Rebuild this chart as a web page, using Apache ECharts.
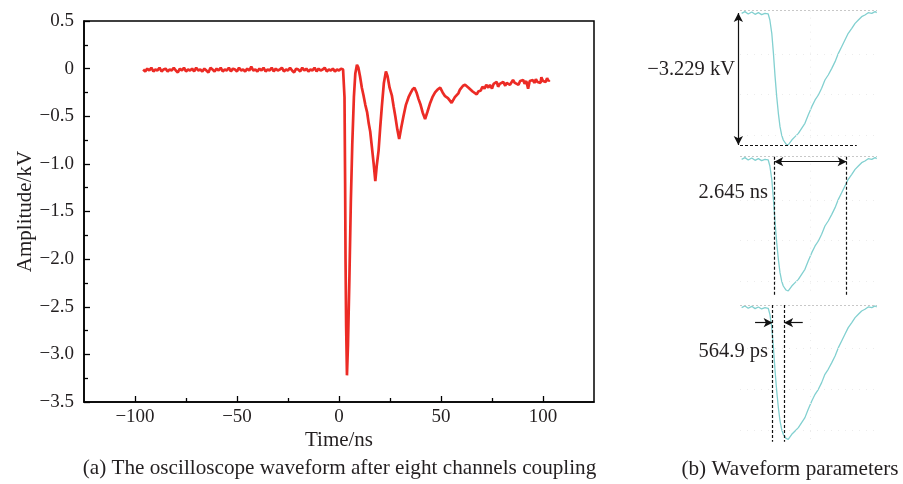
<!DOCTYPE html>
<html>
<head>
<meta charset="utf-8">
<script src="https://cdn.jsdelivr.net/npm/echarts@6/dist/echarts.min.js"></script>
<style>html,body{margin:0;padding:0;background:#fff}#c{width:903px;height:484px}</style>
</head>
<body>
<div id="c"></div>
<script>
// ---------- main waveform (a) ----------
const baseTime = [-96,-95,-94,-93,-92,-91,-90,-89,-88,-87,-86,-85,-84,-83,-82,-81,-80,-79,-78,-77,
-76,-75,-74,-73,-72,-71,-70,-69,-68,-67,-66,-65,-64,-63,-62,-61,-60,-59,-58,-57,
-56,-55,-54,-53,-52,-51,-50,-49,-48,-47,-46,-45,-44,-43,-42,-41,-40,-39,-38,-37,
-36,-35,-34,-33,-32,-31,-30,-29,-28,-27,-26,-25,-24,-23,-22,-21,-20,-19,-18,-17,
-16,-15,-14,-13,-12,-11,-10,-9,-8,-7,-6,-5,-4,-3,-2,-1,0,1,2];
const baseValue = [-0.01,-0.03,0.00,-0.02,0.01,-0.03,-0.01,-0.02,0.01,-0.03,
-0.01,0.00,-0.03,-0.01,-0.02,0.01,-0.02,-0.04,0.00,-0.02,
0.01,-0.03,-0.01,-0.02,0.00,-0.03,0.01,-0.02,-0.01,-0.03,
0.00,-0.02,-0.04,0.01,-0.01,-0.03,0.00,-0.02,0.01,-0.03,
-0.01,-0.02,0.01,-0.03,0.00,-0.01,-0.03,0.01,-0.02,-0.01,
-0.03,0.00,-0.02,0.02,-0.02,-0.01,-0.03,0.00,-0.02,0.01,
-0.03,-0.01,-0.02,0.01,-0.03,0.00,-0.02,-0.01,0.01,-0.03,
-0.01,-0.02,0.01,-0.02,-0.04,0.00,-0.01,-0.03,0.01,-0.02,
0.00,-0.03,-0.01,-0.02,0.01,-0.03,0.00,-0.02,-0.01,0.01,
-0.03,-0.01,-0.02,0.00,-0.03,-0.01,-0.02,0.00,-0.01];
const pulseTimeMain = [2.4,2.7,3.0,3.2,3.5,3.9,4.4,5.1,5.8,6.5,7.3,8.0,8.8,9.5,10.3,11.2,12.0,12.9,13.8,14.6,
15.3,16.1,17.0,17.8,18.5,19.4,20.2,21.0,22.0,23.0,23.8,24.8,25.9,26.8,27.6,28.6,29.5,30.5,31.6,32.8,
34.1,35.0,36.0,37.0,38.0,39.0,40.0,41.0,42.2,43.4,44.7,45.8,47.1,48.3,49.6,50.8,52.0,53.4,55.2,56.8];
const pulseValueMain = [-0.03,-0.3,-1.2,-2.0,-2.7,-3.22,-2.9,-2.2,-1.4,-0.8,-0.3,-0.05,0.04,0.01,-0.08,-0.2,-0.28,-0.38,-0.46,-0.58,
-0.66,-0.82,-1.0,-1.18,-1.02,-0.86,-0.62,-0.4,-0.15,-0.03,-0.08,-0.2,-0.28,-0.4,-0.5,-0.64,-0.74,-0.62,-0.5,-0.38,
-0.3,-0.26,-0.22,-0.2,-0.25,-0.32,-0.38,-0.46,-0.53,-0.45,-0.36,-0.3,-0.25,-0.22,-0.2,-0.25,-0.29,-0.31,-0.36,-0.3];
const tailTime = [58.5,59.3,60.0,60.8,61.8,62.5,63.5,64.3,65.5,66.3,67.5,68.3,69.5,70.3,71.3,72.2,73.2,74.0,75.0,75.8,
76.5,77.3,78.0,78.8,79.7,80.5,81.5,82.2,83.0,83.8,84.5,85.3,86.2,87.0,88.0,88.8,89.5,90.3,91.0,91.8,
92.7,93.5,94.3,95.0,95.8,96.5,97.3,98.0,98.8,99.2,100.0,100.5,101.3,102.0,102.7,103.3];
const tailValue = [-0.26,-0.22,-0.23,-0.18,-0.17,-0.15,-0.2,-0.19,-0.24,-0.22,-0.27,-0.24,-0.23,-0.19,-0.21,-0.17,-0.2,-0.17,-0.21,-0.16,
-0.18,-0.14,-0.19,-0.16,-0.18,-0.14,-0.18,-0.15,-0.13,-0.17,-0.15,-0.12,-0.15,-0.13,-0.17,-0.13,-0.15,-0.12,-0.16,-0.13,
-0.21,-0.13,-0.15,-0.12,-0.15,-0.11,-0.14,-0.12,-0.15,-0.09,-0.13,-0.11,-0.14,-0.1,-0.13,-0.12];
const xMajorTicks = [-100,-50,0,50,100];
const xMinorTicks = [-75,-25,25,75];

// ---------- zoomed pulse (b) ----------
const pulseT = [0.06,0.18,0.30,0.43,0.55,0.67,0.79,0.91,1.03,1.09,1.16,1.22,1.28,1.34,1.40,1.46,1.52,1.58,1.68,1.76,
1.82,1.89,1.95,2.01,2.13,2.25,2.37,2.49,2.62,2.74,2.86,2.98,3.10,3.22,3.35,3.47,3.59,3.71,3.83,3.95,
4.08,4.20,4.32,4.44,4.56,4.68,4.81,4.93,4.99];
const pulseV = [-0.008,0.033,-0.024,0.024,-0.033,0.008,-0.041,-0.008,-0.024,-0.171,-0.497,-0.987,-1.557,-2.047,-2.454,-2.781,-2.984,-3.107,-3.205,-3.229,
-3.188,-3.107,-3.148,-3.025,-2.944,-2.821,-2.699,-2.495,-2.291,-2.128,-2.006,-1.843,-1.639,-1.517,-1.354,-1.190,-0.987,-0.824,-0.660,-0.497,
-0.375,-0.253,-0.171,-0.090,-0.049,0.008,-0.008,0.033,0.008];
const peakAmp = [0, -3.229];          // amplitude annotation (kV)
const fwhmT = [1.25, 3.89];           // 2.645 ns markers
const riseT = [1.19, 1.61];           // 564.9 ps markers
const labelsB = ['\u22123.229 kV', '2.645 ns', '564.9 ps'];

const FONT = "'Liberation Serif','Times New Roman',serif";
const TXT = '#231f20';
const RED = '#ec2b25';
const CYAN = '#82d0d0';
const minus = s => String(s).replace('-', '\u2212');

const mainData = baseTime.map((t,i)=>[t, baseValue[i]])
  .concat(pulseTimeMain.map((t,i)=>[t, pulseValueMain[i]]))
  .concat(tailTime.map((t,i)=>[t, tailValue[i]]));
const pulseData = pulseT.map((t,i)=>[t, pulseV[i]]);

const Y_TOP = 0.056, Y_MIN = -3.35;
const panelTops = [10.7, 156.7, 305];
const PX_NS = 27.4, PX_KV = 40.88;

const grids = [{left:84, top:21, width:510, height:381, show:true, borderColor:'#000', borderWidth:1.5, backgroundColor:'transparent'}];
panelTops.forEach(tp => grids.push({left:740-0.1*PX_NS, top:tp, width:5.1*PX_NS, height:(Y_TOP-Y_MIN)*PX_KV}));

const xAxes = [
  {gridIndex:0, type:'value', min:-125, max:125, position:'bottom',
   axisLine:{show:true, onZero:false, lineStyle:{color:'#000', width:1.5}},
   axisTick:{show:true, inside:true, length:6, customValues:xMajorTicks, lineStyle:{color:'#000', width:1.3}},
   axisLabel:{show:true, customValues:xMajorTicks, margin:6, color:TXT, fontSize:19, fontFamily:FONT, formatter:v=>minus(v)},
   splitLine:{show:false},
   name:'Time/ns', nameLocation:'middle', nameGap:28, nameMoveOverlap:false,
   nameTextStyle:{color:TXT, fontSize:21, fontFamily:FONT}},
  {gridIndex:0, type:'value', min:-125, max:125, position:'bottom',
   axisLine:{show:false, onZero:false}, axisLabel:{show:false}, splitLine:{show:false},
   axisTick:{show:true, inside:true, length:4, customValues:xMinorTicks, lineStyle:{color:'#000', width:1.3}}}
];
const yAxes = [
  {gridIndex:0, type:'value', min:-3.5, max:0.5, interval:0.5,
   axisLine:{show:true, onZero:false, lineStyle:{color:'#000', width:1.5}},
   axisTick:{show:true, inside:true, length:6, lineStyle:{color:'#000', width:1.3}},
   minorTick:{show:true, splitNumber:2, length:4, lineStyle:{color:'#000', width:1.3}},
   axisLabel:{margin:10, color:TXT, fontSize:19, fontFamily:FONT,
     formatter:v=> Math.abs(v)<1e-9 ? '0' : (v<0?'\u2212':'') + Math.abs(v).toFixed(1)},
   splitLine:{show:false},
   name:'Amplitude/kV', nameLocation:'middle', nameGap:48, nameMoveOverlap:false,
   nameTextStyle:{color:TXT, fontSize:21, fontFamily:FONT}}
];
for (let i=1;i<=3;i++){
  xAxes.push({gridIndex:i, type:'value', min:-0.1, max:5, show:false});
  yAxes.push({gridIndex:i, type:'value', min:Y_MIN, max:Y_TOP, show:false});
}

const dashK = {color:'#111', width:1.2, type:[3,2]};
const solidK = {color:'#111', width:1.2, type:'solid'};
function commonMarks(){
  return [
    [{coord:[0,Y_TOP], lineStyle:{color:'#c8c8c8', width:1, type:[2,2]}}, {coord:[5,Y_TOP]}],
    [{coord:[0,-1], lineStyle:{color:'#ececec', width:1, type:[1,6]}}, {coord:[5,-1]}],
    [{coord:[0,-2], lineStyle:{color:'#ececec', width:1, type:[1,6]}}, {coord:[5,-2]}],
    [{coord:[0,-3], lineStyle:{color:'#ececec', width:1, type:[1,6]}}, {coord:[5,-3]}],
    [{coord:[2.55,Y_TOP], lineStyle:{color:'#ececec', width:1, type:[1,6]}}, {coord:[2.55,-3.229]}]
  ];
}
const panelMarks = [
  commonMarks().concat([
    [{coord:[-0.06,peakAmp[0]], symbol:'arrow', lineStyle:solidK}, {coord:[-0.06,peakAmp[1]], symbol:'arrow'}],
    [{coord:[0,peakAmp[1]], lineStyle:dashK}, {coord:[4.26,peakAmp[1]]}]
  ]),
  commonMarks().concat([
    [{coord:[fwhmT[0],Y_TOP], lineStyle:dashK}, {coord:[fwhmT[0],-3.35]}],
    [{coord:[fwhmT[1],Y_TOP], lineStyle:dashK}, {coord:[fwhmT[1],-3.35]}],
    [{coord:[fwhmT[0],-0.066], symbol:'arrow', lineStyle:solidK}, {coord:[fwhmT[1],-0.066], symbol:'arrow'}]
  ]),
  commonMarks().concat([
    [{coord:[riseT[0],Y_TOP], lineStyle:dashK}, {coord:[riseT[0],-3.29]}],
    [{coord:[riseT[1],Y_TOP], lineStyle:dashK}, {coord:[riseT[1],-3.29]}],
    [{coord:[0.55,-0.377], lineStyle:solidK}, {coord:[riseT[0],-0.377], symbol:'arrow'}],
    [{coord:[2.29,-0.377], lineStyle:solidK}, {coord:[riseT[1],-0.377], symbol:'arrow'}]
  ])
];

const series = [{
  type:'line', xAxisIndex:0, yAxisIndex:0, data:mainData, showSymbol:false, symbol:'none',
  lineStyle:{color:RED, width:2.7}, itemStyle:{color:RED}, silent:true, z:3
}];
for (let i=0;i<3;i++){
  series.push({
    type:'line', xAxisIndex:i+2, yAxisIndex:i+1, data:pulseData, showSymbol:false, symbol:'none',
    lineStyle:{color:CYAN, width:1.3}, itemStyle:{color:CYAN}, silent:true, clip:false,
    markLine:{silent:true, symbol:['none','none'], symbolSize:[7,9], label:{show:false}, animation:false,
      emphasis:{disabled:true}, lineStyle:solidK, data:panelMarks[i]}
  });
}

const txt = (x,y,s,align,size)=>({type:'text', x:x, y:y, silent:true,
  style:{text:s, fill:TXT, font:size+'px '+FONT, textAlign:align, textVerticalAlign:'middle'}});
const graphics = [
  txt(735, 70, labelsB[0], 'right', 20.5),
  txt(768, 193, labelsB[1], 'right', 20.5),
  txt(768, 352, labelsB[2], 'right', 20.5),
  txt(339.5, 468, '(a) The oscilloscope waveform after eight channels coupling', 'center', 21.2),
  txt(790, 469, '(b) Waveform parameters', 'center', 21.2)
];

const chart = echarts.init(document.getElementById('c'), null, {renderer:'canvas'});
chart.setOption({
  animation:false, backgroundColor:'#fff',
  grid:grids, xAxis:xAxes, yAxis:yAxes, series:series, graphic:graphics
});
</script>
</body>
</html>
